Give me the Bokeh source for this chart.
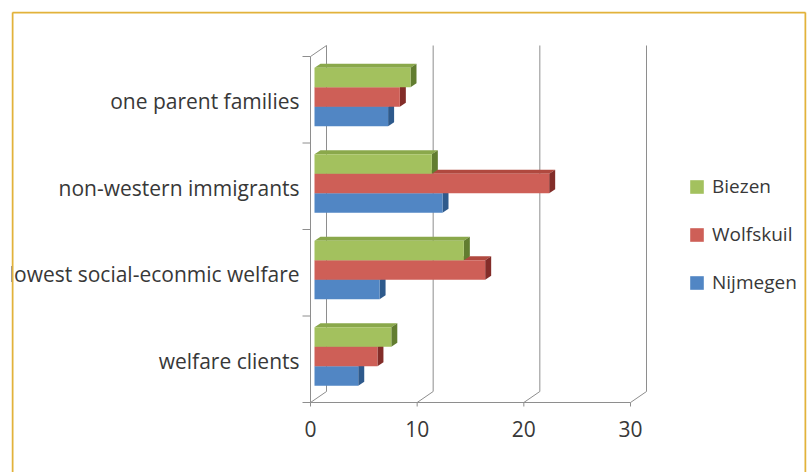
from bokeh.plotting import figure
from bokeh.models import Range1d, Legend, LegendItem
from bokeh.core.properties import value
from bokeh.embed import file_html
from bokeh.resources import INLINE

# ---------------- data ----------------
categories = ["welfare clients", "lowest social-econmic welfare",
              "non-western immigrants", "one parent families"]
series_names = ["Nijmegen", "Wolfskuil", "Biezen"]
nijmegen = [4.1, 6.1, 12.0, 6.9]
wolfskuil = [5.9, 16.0, 22.0, 8.0]
biezen = [7.2, 14.0, 11.0, 9.0]
x_ticks = [0, 10, 20, 30]
x_tick_labels = ["0", "10", "20", "30"]

# ---------------- styles ----------------
front_colors = ["#5186C4", "#CE5F57", "#A3C15E"]
top_colors = ["#4172AA", "#B0493F", "#8AA84B"]
side_colors = ["#2E5A8C", "#832D29", "#627D30"]
grid_color = "#8E8E8E"
text_color = "#383838"
border_color = "#E2B23A"
FONT = "Open Sans"

# screen geometry (pixels) used to derive ranges
W, H = 808, 472
FL, FT, FR = 11, 11, 806            # frame left / top / right in px
ZERO_PX, PX_PER_UNIT = 310.0, 10.667
BASE_PX, PX_PER_BAND = 402.0, 86.5


def ux(px):
    return (px - ZERO_PX) / PX_PER_UNIT


def uy(py):
    return (BASE_PX - py) / PX_PER_BAND


# 3-D depth vectors in data units
DX, DY = 16 / PX_PER_UNIT, 11 / PX_PER_BAND          # full wall depth
FX, FY = 4 / PX_PER_UNIT, 2.75 / PX_PER_BAND         # bar front offset
BX, BY = 6 / PX_PER_UNIT, 4 / PX_PER_BAND            # bar depth
BAR_H = 19.5 / PX_PER_BAND

n_cat = len(categories)
x_max = x_ticks[-1]

p = figure(width=W, height=H,
           x_range=Range1d(ux(FL), ux(FR)), y_range=Range1d(uy(H), uy(FT)),
           output_backend="svg", toolbar_location=None,
           x_axis_location=None, y_axis_location=None,
           min_border_left=FL, min_border_top=FT, min_border_right=W - FR,
           min_border_bottom=0)
p.grid.visible = False
p.outline_line_color = None
p.background_fill_color = "white"
p.border_fill_color = "white"

# ---------------- walls / gridlines ----------------
gx0, gy0, gx1, gy1 = [], [], [], []
for v in x_ticks:
    gx0.append(v + DX); gy0.append(DY); gx1.append(v + DX); gy1.append(n_cat + DY)
    gx0.append(v); gy0.append(0); gx1.append(v + DX); gy1.append(DY)
gx0 += [0, 0]; gy0 += [0, n_cat]; gx1 += [0, DX]; gy1 += [n_cat, n_cat + DY]
gx0.append(0); gy0.append(0); gx1.append(x_max); gy1.append(0)
tick_len = 8 / PX_PER_UNIT
for i in range(n_cat + 1):
    gx0.append(-tick_len); gy0.append(i); gx1.append(0); gy1.append(i)
vt = 4 / PX_PER_BAND
for v in x_ticks:
    gx0.append(v); gy0.append(0); gx1.append(v); gy1.append(-vt)
p.segment(gx0, gy0, gx1, gy1, line_color=grid_color, line_width=1)

# ---------------- 3-D bars ----------------
all_values = [nijmegen, wolfskuil, biezen]
legend_items = []
for k, vals in enumerate(all_values):
    fxs, fys, txs, tys, sxs, sys_ = [], [], [], [], [], []
    for i, v in enumerate(vals):
        c = i + 0.5
        y0 = c - 1.5 * BAR_H + k * BAR_H + FY
        y1 = y0 + BAR_H
        x0 = FX
        x1 = v + FX
        fxs.append([x0, x1, x1, x0]); fys.append([y0, y0, y1, y1])
        txs.append([x0, x1, x1 + BX, x0 + BX]); tys.append([y1, y1, y1 + BY, y1 + BY])
        sxs.append([x1, x1 + BX, x1 + BX, x1]); sys_.append([y0, y0 + BY, y1 + BY, y1])
    p.patches(txs, tys, fill_color=top_colors[k], line_color=None)
    p.patches(sxs, sys_, fill_color=side_colors[k], line_color=None)
    r = p.patches(fxs, fys, fill_color=front_colors[k], line_color=None)
    legend_items.append(LegendItem(label=series_names[k], renderers=[r]))

# ---------------- texts ----------------
p.text(x=[ux(299)] * n_cat, y=[i + 0.5 - 1.5 / PX_PER_BAND for i in range(n_cat)],
       text=categories, text_align="right", text_baseline="middle",
       text_font=value(FONT), text_font_size="21px", text_color=text_color)
p.text(x=x_ticks, y=[uy(428)] * len(x_ticks), text=x_tick_labels,
       text_align="center", text_baseline="middle",
       text_font=value(FONT), text_font_size="21px", text_color=text_color)

# ---------------- legend ----------------
legend = Legend(items=list(reversed(legend_items)), location=(677, 177),
                orientation="vertical", glyph_width=17, glyph_height=17,
                label_standoff=7, spacing=22, padding=0, margin=0,
                label_height=20,
                label_text_font=FONT, label_text_font_size="19px",
                label_text_color=text_color,
                border_line_color=None, background_fill_alpha=0)
p.add_layout(legend, "center")

# ---------------- frame border ----------------
p.segment([ux(12), ux(12), ux(805)], [uy(H), uy(12), uy(12)],
          [ux(12), ux(805), ux(805)], [uy(12), uy(12), uy(H)],
          line_color=border_color, line_width=2)

open("out.html", "w").write(file_html(p, INLINE))
